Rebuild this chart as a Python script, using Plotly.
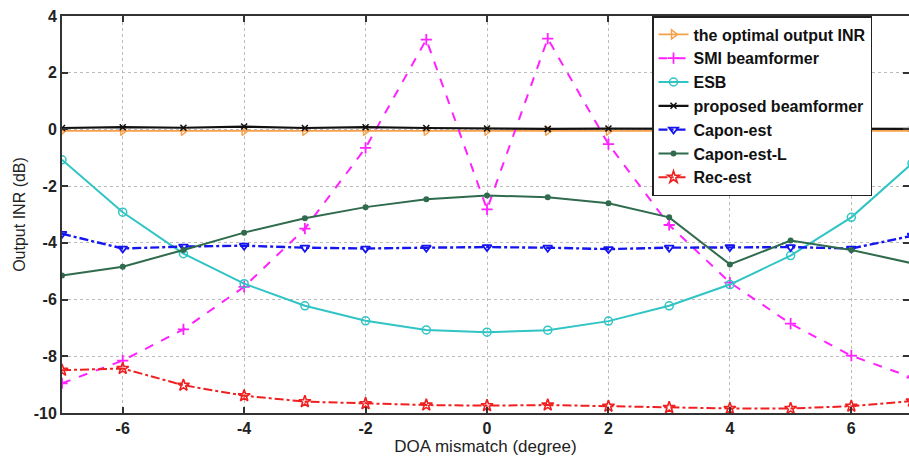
import plotly.graph_objects as go

doa = [-7, -6, -5, -4, -3, -2, -1, 0, 1, 2, 3, 4, 5, 6, 7]

optimal = [-0.05, -0.05, -0.05, -0.05, -0.05, -0.05, -0.05, -0.05, -0.05, -0.05, -0.05, -0.05, -0.05, -0.05, -0.05]
smi = [-8.95, -8.15, -7.05, -5.55, -3.5, -0.65, 3.17, -2.82, 3.2, -0.52, -3.37, -5.4, -6.85, -7.98, -8.75]
esb = [-1.07, -2.92, -4.38, -5.44, -6.22, -6.75, -7.07, -7.15, -7.08, -6.76, -6.22, -5.47, -4.45, -3.1, -1.2]
proposed = [0.05, 0.08, 0.06, 0.1, 0.05, 0.08, 0.05, 0.03, 0.02, 0.03, 0.02, 0.02, 0.03, 0.03, 0.02]
capon = [-3.68, -4.2, -4.13, -4.1, -4.17, -4.2, -4.17, -4.15, -4.17, -4.22, -4.17, -4.15, -4.15, -4.2, -3.75]
capon_l = [-5.15, -4.84, -4.25, -3.64, -3.13, -2.74, -2.46, -2.33, -2.39, -2.6, -3.1, -4.76, -3.92, -4.25, -4.72]
rec = [-8.49, -8.43, -9.02, -9.39, -9.6, -9.67, -9.72, -9.74, -9.72, -9.76, -9.81, -9.84, -9.84, -9.76, -9.58]

x_ticks = [-6, -4, -2, 0, 2, 4, 6]
y_ticks = [-10, -8, -6, -4, -2, 0, 2, 4]

FONT = "Liberation Sans, Arial, sans-serif"

fig = go.Figure()

fig.add_trace(go.Scatter(x=doa, y=optimal, name="the optimal output INR", mode="lines+markers",
                         line=dict(color="#F7A04B", width=1.8),
                         marker=dict(symbol="triangle-right-open", size=8, color="#F7A04B", line=dict(width=1.5))))
fig.add_trace(go.Scatter(x=doa, y=smi, name="SMI beamformer", mode="lines+markers",
                         line=dict(color="#FF22FF", width=2, dash="dash"),
                         marker=dict(symbol="cross-thin", size=8, color="#FF22FF", line=dict(width=1.8, color="#FF22FF"))))
fig.add_trace(go.Scatter(x=doa, y=esb, name="ESB", mode="lines+markers",
                         line=dict(color="#30C4C4", width=2),
                         marker=dict(symbol="circle-open", size=8, color="#30C4C4", line=dict(width=1.5))))
fig.add_trace(go.Scatter(x=doa, y=proposed, name="proposed beamformer", mode="lines+markers",
                         line=dict(color="#111111", width=2.2),
                         marker=dict(symbol="x-thin", size=6, color="#111111", line=dict(width=1.5, color="#111111"))))
fig.add_trace(go.Scatter(x=doa, y=capon, name="Capon-est", mode="lines+markers",
                         line=dict(color="#1515F0", width=2.4, dash="dashdot"),
                         marker=dict(symbol="triangle-down-open", size=8, color="#1515F0", line=dict(width=1.8))))
fig.add_trace(go.Scatter(x=doa, y=capon_l, name="Capon-est-L", mode="lines+markers",
                         line=dict(color="#2F6B4C", width=2),
                         marker=dict(symbol="circle", size=6, color="#2F6B4C")))
fig.add_trace(go.Scatter(x=doa, y=rec, name="Rec-est", mode="lines+markers",
                         line=dict(color="#F02020", width=2, dash="dashdot"),
                         marker=dict(symbol="star-open", size=9, color="#F02020", line=dict(width=1.6))))

axis_common = dict(
    showline=True, linecolor="#333333", linewidth=2, mirror="ticks",
    ticks="inside", ticklen=6, tickwidth=2, tickcolor="#333333",
    showgrid=True, gridcolor="#BBBBBB", griddash="dot", gridwidth=1,
    zeroline=False, automargin=False,
    tickfont=dict(family=FONT, size=16, color="#222222", weight="bold"),
)

fig.update_xaxes(range=[-7, 6.95], tickvals=x_ticks, ticktext=[str(v) for v in x_ticks],
                 title=dict(text="DOA mismatch (degree)", font=dict(family=FONT, size=17, color="#222222"), standoff=2),
                 **axis_common)
fig.update_yaxes(range=[-10, 4], tickvals=y_ticks, ticktext=[str(v) for v in y_ticks],
                 title=dict(text="Output INR (dB)", font=dict(family=FONT, size=16, color="#222222"), standoff=4),
                 **axis_common)

fig.update_layout(
    width=909, height=460,
    margin=dict(l=62, r=0, t=16, b=47, autoexpand=False),
    paper_bgcolor="white", plot_bgcolor="white",
    font=dict(family=FONT, color="#222222"),
    legend=dict(x=0.6966, y=1, xanchor="left", yanchor="top",
                bgcolor="white", bordercolor="#222222", borderwidth=1.5,
                font=dict(family=FONT, size=16, color="#111111", weight="bold"),
                tracegroupgap=0, itemwidth=30),
    showlegend=True,
)

fig.write_html("out.html",
               config={"displayModeBar": False},
               post_script="document.body.style.margin='0';document.body.style.padding='0';"
                           "document.body.style.overflow='hidden';")
